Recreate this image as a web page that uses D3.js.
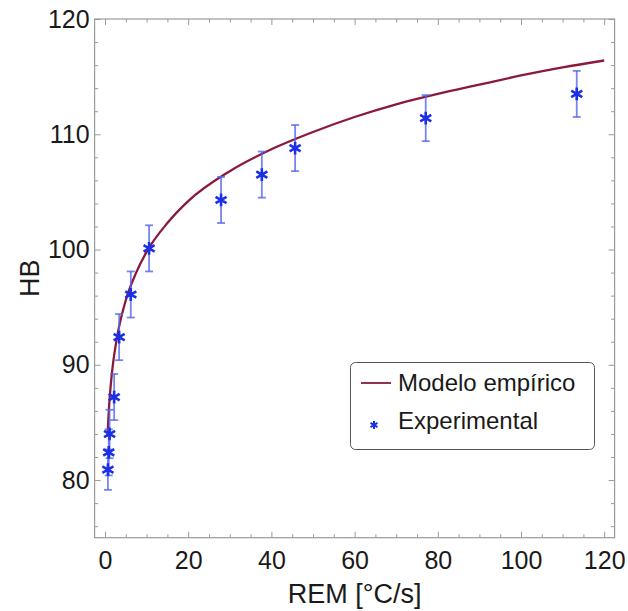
<!DOCTYPE html>
<html>
<head>
<meta charset="utf-8">
<script src="https://cdn.jsdelivr.net/npm/d3@7"></script>
<style>
  html, body { margin: 0; padding: 0; background: #fff; }
  svg { display: block; font-family: "Liberation Sans", Arial, sans-serif; }
</style>
</head>
<body>
<svg id="chart" width="628" height="611"></svg>
<script>
// ---- data ----
const remExp = [0.7, 0.9, 1.1, 2.2, 3.4, 6.2, 10.6, 27.9, 37.7, 45.7, 77.1, 113.4];
const hbExp  = [80.9, 82.4, 84.0, 87.2, 92.4, 96.1, 100.1, 104.3, 106.5, 108.8, 111.4, 113.5];
const hbErr  = [1.75, 2.0, 2.1, 2.0, 2.0, 2.0, 2.0, 2.0, 2.0, 2.0, 2.0, 2.0];

const remModel = [0.6, 0.8, 1, 1.5, 2, 3, 5, 7.5, 10, 15, 20, 30, 40, 50, 60, 70, 80, 90, 100, 110, 120];
const hbModel  = [83.8, 85.3, 86.5, 88.7, 90.3, 92.6, 95.6, 98.0, 99.8, 102.3, 104.2, 106.8, 108.7, 110.2, 111.5, 112.6, 113.5, 114.3, 115.1, 115.8, 116.4];

const xTicks = [0, 20, 40, 60, 80, 100, 120];
const yTicks = [80, 90, 100, 110, 120];
const xLabel = "REM [°C/s]";
const yLabel = "HB";
const legendLabels = ["Modelo empírico", "Experimental"];

// ---- layout ----
const L = 94.6, R = 614.6, T = 19, B = 537.7;
const x = d3.scaleLinear().domain([-2.5, 122.5]).range([L, R]);
const y = d3.scaleLinear().domain([75, 120]).range([B, T]);

const svg = d3.select("#chart");
const frameColor = "#9a9a9a";
const lineColor = "#8a1a3c";
const markColor = "#1b2fe6";
const errColor = "#5466ee";

const xMinor = d3.range(0, 121, 5).filter(v => v % 20 !== 0);
const yMinor = d3.range(76, 120, 2).filter(v => v % 10 !== 0);

function styleAxis(g) {
  g.select(".domain").remove();
  g.selectAll(".tick line").attr("stroke", frameColor).attr("stroke-width", 1);
  g.selectAll(".tick text").attr("fill", "#1a1a1a").style("font-family", "'Liberation Sans', Arial, sans-serif").style("font-size", "25px");
}

// bottom
svg.append("g").attr("transform", `translate(0,${B})`)
  .call(d3.axisBottom(x).tickValues(xTicks).tickSize(-6).tickPadding(14).tickFormat(d3.format("d")))
  .call(styleAxis);
svg.append("g").attr("transform", `translate(0,${B})`)
  .call(d3.axisBottom(x).tickValues(xMinor).tickSize(-3.5).tickFormat(""))
  .call(styleAxis);
// top
svg.append("g").attr("transform", `translate(0,${T})`)
  .call(d3.axisTop(x).tickValues(xTicks).tickSize(-6).tickFormat(""))
  .call(styleAxis);
svg.append("g").attr("transform", `translate(0,${T})`)
  .call(d3.axisTop(x).tickValues(xMinor).tickSize(-3.5).tickFormat(""))
  .call(styleAxis);
// left
svg.append("g").attr("transform", `translate(${L},0)`)
  .call(d3.axisLeft(y).tickValues(yTicks).tickSize(-6).tickPadding(5).tickFormat(d3.format("d")))
  .call(styleAxis);
svg.append("g").attr("transform", `translate(${L},0)`)
  .call(d3.axisLeft(y).tickValues(yMinor).tickSize(-3.5).tickFormat(""))
  .call(styleAxis);
// right
svg.append("g").attr("transform", `translate(${R},0)`)
  .call(d3.axisRight(y).tickValues(yTicks).tickSize(-6).tickFormat(""))
  .call(styleAxis);
svg.append("g").attr("transform", `translate(${R},0)`)
  .call(d3.axisRight(y).tickValues(yMinor).tickSize(-3.5).tickFormat(""))
  .call(styleAxis);

// frame
svg.append("rect").attr("x", L).attr("y", T).attr("width", R - L).attr("height", B - T)
  .attr("fill", "none").attr("stroke", frameColor).attr("stroke-width", 1.2);

// axis titles
svg.append("text").attr("x", (L + R) / 2).attr("y", 603).attr("text-anchor", "middle")
  .attr("fill", "#1a1a1a").style("font-size", "27px").text(xLabel);
svg.append("text").attr("transform", `translate(39,${(T + B) / 2}) rotate(-90)`).attr("text-anchor", "middle")
  .attr("fill", "#1a1a1a").style("font-size", "27px").text(yLabel);

// model curve
const modelData = remModel.map((r, i) => ({ r, h: hbModel[i] }));
svg.append("path").datum(modelData)
  .attr("fill", "none").attr("stroke", lineColor).attr("stroke-width", 2.3)
  .attr("d", d3.line().x(d => x(d.r)).y(d => y(d.h)).curve(d3.curveMonotoneX));

// error bars
const expData = remExp.map((r, i) => ({ r, h: hbExp[i], e: hbErr[i] }));
const eb = svg.append("g").attr("stroke", errColor).attr("stroke-width", 1.8).attr("stroke-opacity", 0.8);
eb.selectAll("line.v").data(expData).join("line").attr("class", "v")
  .attr("x1", d => x(d.r)).attr("x2", d => x(d.r))
  .attr("y1", d => y(d.h - d.e)).attr("y2", d => y(d.h + d.e));
eb.selectAll("line.t").data(expData).join("line").attr("class", "t")
  .attr("x1", d => x(d.r) - 4).attr("x2", d => x(d.r) + 4)
  .attr("y1", d => y(d.h + d.e)).attr("y2", d => y(d.h + d.e));
eb.selectAll("line.b").data(expData).join("line").attr("class", "b")
  .attr("x1", d => x(d.r) - 4).attr("x2", d => x(d.r) + 4)
  .attr("y1", d => y(d.h - d.e)).attr("y2", d => y(d.h - d.e));

// markers
const star = d3.symbol(d3.symbolAsterisk, 115);
svg.append("g").selectAll("path").data(expData).join("path")
  .attr("transform", d => `translate(${x(d.r)},${y(d.h)})`)
  .attr("d", star).attr("fill", "none").attr("stroke", markColor).attr("stroke-width", 2.6);

// legend
const lg = svg.append("g");
lg.append("rect").attr("x", 350.5).attr("y", 362.5).attr("width", 244).attr("height", 87).attr("rx", 5)
  .attr("fill", "#fff").attr("stroke", "#555").attr("stroke-width", 1);
lg.append("line").attr("x1", 361).attr("x2", 391).attr("y1", 383).attr("y2", 383)
  .attr("stroke", lineColor).attr("stroke-width", 1.8);
lg.append("text").attr("x", 398).attr("y", 391).attr("fill", "#1a1a1a").style("font-size", "24px").text(legendLabels[0]);
lg.append("path").attr("transform", "translate(374,425)").attr("d", d3.symbol(d3.symbolAsterisk, 45))
  .attr("fill", "none").attr("stroke", markColor).attr("stroke-width", 2);
lg.append("text").attr("x", 398).attr("y", 429).attr("fill", "#1a1a1a").style("font-size", "24px").text(legendLabels[1]);
</script>
</body>
</html>
